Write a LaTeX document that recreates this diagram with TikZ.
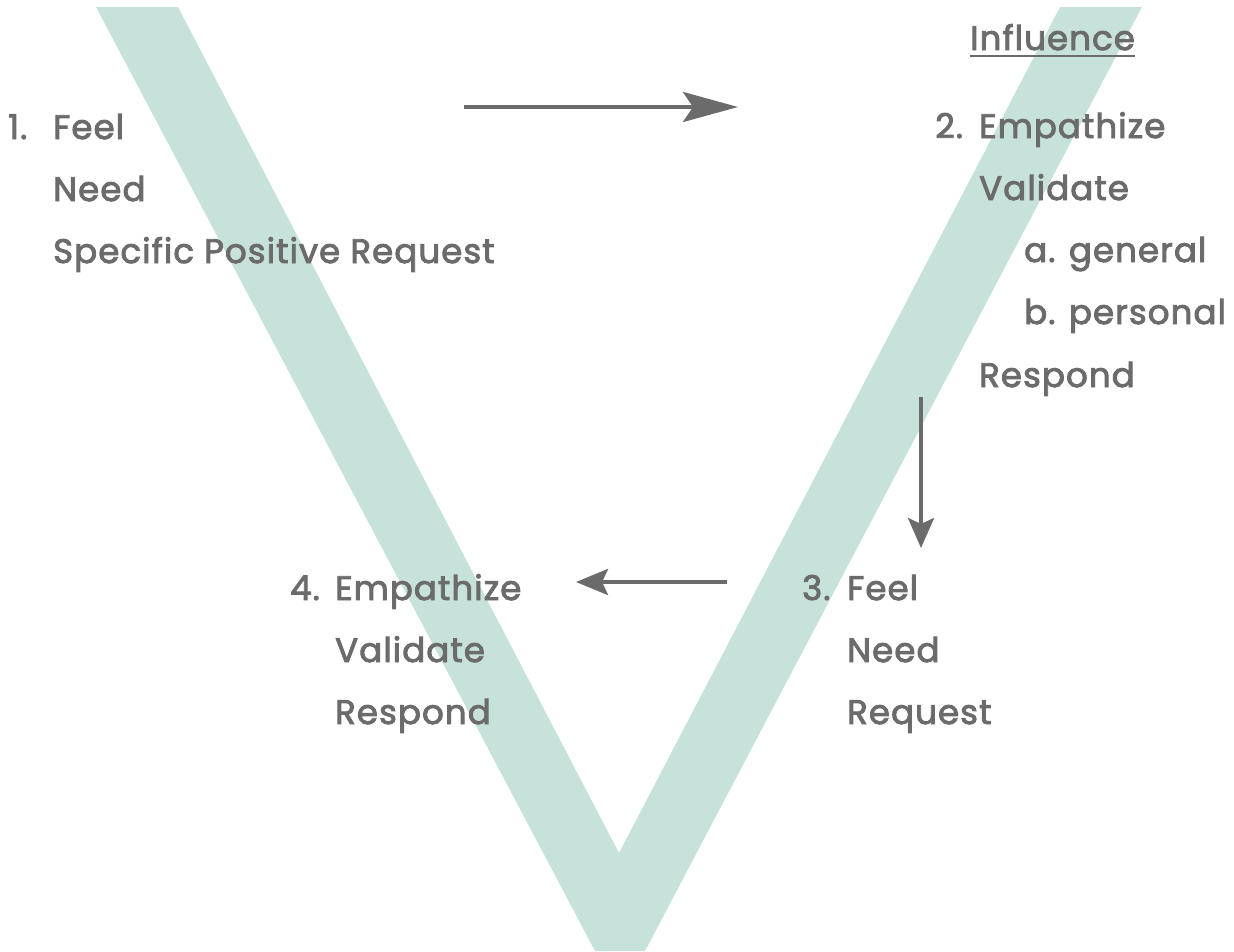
\documentclass[tikz,border=0pt]{standalone}
\usepackage{fontspec}
\setmainfont{Poppins}[FakeBold=2.6,LetterSpace=3.2]
\usetikzlibrary{arrows.meta}
\definecolor{vgreen}{HTML}{C6E2DA}
\definecolor{tgray}{HTML}{6B6B6B}
\begin{document}
\begin{tikzpicture}[x=1pt,y=-1pt,
  lbl/.style={anchor=base west,inner sep=0pt,text=tgray,font=\fontsize{34}{34}\selectfont},
  conn/.style={draw=tgray,line width=4pt}]
\useasboundingbox (0,0) rectangle (1234,951);
\fill[vgreen] (96,7) -- (178,7) -- (619,853) -- (1060,7) -- (1142,7) -- (645,951) -- (595,951) -- cycle;
% block 1
\node[lbl] (n1) at (8,139) {1.};
\node[lbl] (a1) at (53,139) {Feel};
\node[lbl] (a2) at (53,201) {Need};
\node[lbl] (a3) at (53,263) {Specific Positive Request};
% block 2
\node[lbl] (inf) at (970,50) {Influence};
\draw[tgray,line width=2pt] ([yshift=-6pt]inf.base west) -- ([yshift=-6pt]inf.base east);
\node[lbl] (n2) at (935,138) {2.};
\node[lbl] (b1) at (979,138) {Empathize};
\node[lbl] (b2) at (979,200) {Validate};
\node[lbl] (b3) at (1024,262) {a. general};
\node[lbl] (b4) at (1024,324) {b. personal};
\node[lbl] (b5) at (979,387) {Respond};
% block 3
\node[lbl] (n3) at (802,600) {3.};
\node[lbl] (c1) at (847,600) {Feel};
\node[lbl] (c2) at (847,662) {Need};
\node[lbl] (c3) at (847,724) {Request};
% block 4
\node[lbl] (n4) at (290,600) {4.};
\node[lbl] (d1) at (335,600) {Empathize};
\node[lbl] (d2) at (335,662) {Validate};
\node[lbl] (d3) at (335,724) {Respond};
% arrows
\coordinate (p1) at (464,107);
\coordinate (p2) at (738,107);
\coordinate (q1) at (921,397);
\coordinate (q2) at (921,548);
\coordinate (r1) at (727,582);
\coordinate (r2) at (576,582);
\draw[conn,-{Stealth[length=55pt,width=30pt,inset=10pt]}] (p1) -- (p2);
\draw[conn,-{Stealth[length=30pt,width=26pt,inset=6pt]}] (q1) -- (q2);
\draw[conn,-{Stealth[length=32pt,width=26pt,inset=6pt]}] (r1) -- (r2);
\end{tikzpicture}
\end{document}
